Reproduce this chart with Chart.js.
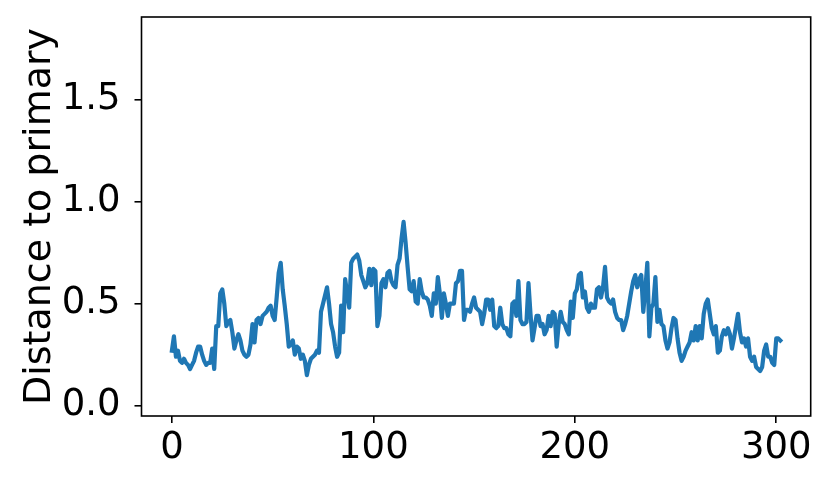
<!DOCTYPE html>
<html>
<head>
<meta charset="utf-8">
<script src="https://cdn.jsdelivr.net/npm/chart.js@4/dist/chart.umd.min.js"></script>
<style>
html,body{margin:0;padding:0;background:#fff;}
#wrap{width:831px;height:488px;position:relative;}
</style>
</head>
<body>
<div id="wrap"><canvas id="c" width="831" height="488"></canvas></div>
<script>
const yTitle = "Distance to primary";
const xTickValues = [0, 100, 200, 300];
const yTickValues = [0, 0.5, 1.0, 1.5];
const distance = [
0.27,0.34,0.24,0.27,0.22,0.21,0.23,0.21,0.20,0.18,
0.20,0.22,0.26,0.29,0.29,0.25,0.22,0.20,0.21,0.21,
0.28,0.18,0.39,0.39,0.55,0.57,0.50,0.39,0.41,0.42,
0.36,0.28,0.32,0.35,0.32,0.27,0.25,0.24,0.25,0.30,
0.40,0.31,0.42,0.43,0.40,0.44,0.45,0.46,0.48,0.49,
0.44,0.42,0.53,0.65,0.70,0.57,0.49,0.40,0.29,0.30,
0.32,0.25,0.29,0.28,0.23,0.25,0.22,0.15,0.20,0.23,
0.24,0.25,0.27,0.26,0.46,0.50,0.54,0.58,0.50,0.40,
0.36,0.29,0.24,0.26,0.49,0.36,0.62,0.55,0.48,0.70,
0.72,0.73,0.74,0.71,0.64,0.61,0.58,0.60,0.67,0.59,
0.67,0.66,0.39,0.44,0.60,0.62,0.58,0.65,0.66,0.61,
0.59,0.58,0.69,0.72,0.82,0.90,0.80,0.68,0.57,0.56,
0.61,0.51,0.50,0.62,0.56,0.53,0.53,0.52,0.49,0.44,
0.55,0.50,0.63,0.55,0.43,0.55,0.50,0.44,0.50,0.50,
0.50,0.60,0.61,0.66,0.66,0.42,0.47,0.47,0.46,0.50,
0.53,0.48,0.47,0.46,0.40,0.45,0.52,0.52,0.47,0.52,
0.39,0.38,0.39,0.48,0.40,0.38,0.38,0.35,0.34,0.50,
0.51,0.44,0.61,0.42,0.40,0.40,0.41,0.60,0.45,0.32,
0.38,0.44,0.44,0.39,0.40,0.35,0.37,0.44,0.39,0.46,
0.45,0.29,0.40,0.46,0.41,0.40,0.37,0.35,0.51,0.43,
0.55,0.57,0.64,0.65,0.53,0.56,0.48,0.46,0.50,0.48,
0.48,0.57,0.58,0.53,0.58,0.68,0.53,0.51,0.50,0.52,
0.46,0.43,0.42,0.42,0.37,0.40,0.44,0.50,0.56,0.61,
0.64,0.58,0.62,0.64,0.46,0.57,0.70,0.34,0.48,0.50,
0.63,0.41,0.47,0.40,0.39,0.32,0.28,0.31,0.38,0.43,
0.42,0.33,0.26,0.22,0.24,0.27,0.29,0.31,0.36,0.32,
0.39,0.32,0.39,0.33,0.45,0.50,0.52,0.45,0.38,0.35,
0.39,0.26,0.27,0.34,0.37,0.35,0.38,0.35,0.28,0.33,
0.39,0.45,0.36,0.31,0.33,0.29,0.33,0.24,0.22,0.24,
0.19,0.18,0.17,0.19,0.27,0.30,0.24,0.24,0.21,0.20,
0.33,0.33,0.32
];

const points = distance.map((v, i) => ({x: i, y: v}));

const frame = {
  id: 'frame',
  afterDraw(chart) {
    const a = chart.chartArea, ctx = chart.ctx;
    ctx.save();
    ctx.strokeStyle = '#000';
    ctx.lineWidth = 1.6;
    ctx.strokeRect(a.left, a.top, a.right - a.left, a.bottom - a.top);
    ctx.restore();
  }
};

const tickFont = {family: 'DejaVu Sans', size: 37};
const titleFont = {family: 'DejaVu Sans', size: 38};

new Chart(document.getElementById('c'), {
  type: 'line',
  data: {datasets: [{
    data: points,
    borderColor: '#1f77b4',
    borderWidth: 4.2,
    borderJoinStyle: 'round',
    borderCapStyle: 'square',
    pointRadius: 0,
    tension: 0,
    fill: false
  }]},
  options: {
    responsive: false,
    animation: false,
    devicePixelRatio: 1,
    layout: {padding: {left: 0, top: 17, right: 20.3, bottom: 0}},
    plugins: {legend: {display: false}, tooltip: {enabled: false}},
    scales: {
      x: {
        type: 'linear',
        min: -15.1, max: 317.1,
        afterBuildTicks: s => { s.ticks = xTickValues.map(v => ({value: v})); },
        afterFit: s => { s.height = 72; s.paddingLeft = 0; s.paddingRight = 0; },
        border: {display: false},
        grid: {drawOnChartArea: false, drawTicks: true, tickLength: 7, color: '#000', lineWidth: 1.6},
        ticks: {color: '#000', font: tickFont, padding: 3, maxRotation: 0, autoSkip: false, callback: v => String(v)}
      },
      y: {
        type: 'linear',
        min: -0.05, max: 1.903,
        afterBuildTicks: s => { s.ticks = yTickValues.map(v => ({value: v})); },
        afterFit: s => { s.width = 141.5; s.paddingTop = 0; s.paddingBottom = 0; },
        border: {display: false},
        grid: {drawOnChartArea: false, drawTicks: true, tickLength: 7, color: '#000', lineWidth: 1.6},
        ticks: {color: '#000', font: tickFont, padding: 14, autoSkip: false, callback: v => Number(v).toFixed(1)},
        title: {display: true, text: yTitle, color: '#000', font: titleFont, padding: {top: 17, bottom: 0}}
      }
    }
  },
  plugins: [frame]
});
</script>
</body>
</html>
